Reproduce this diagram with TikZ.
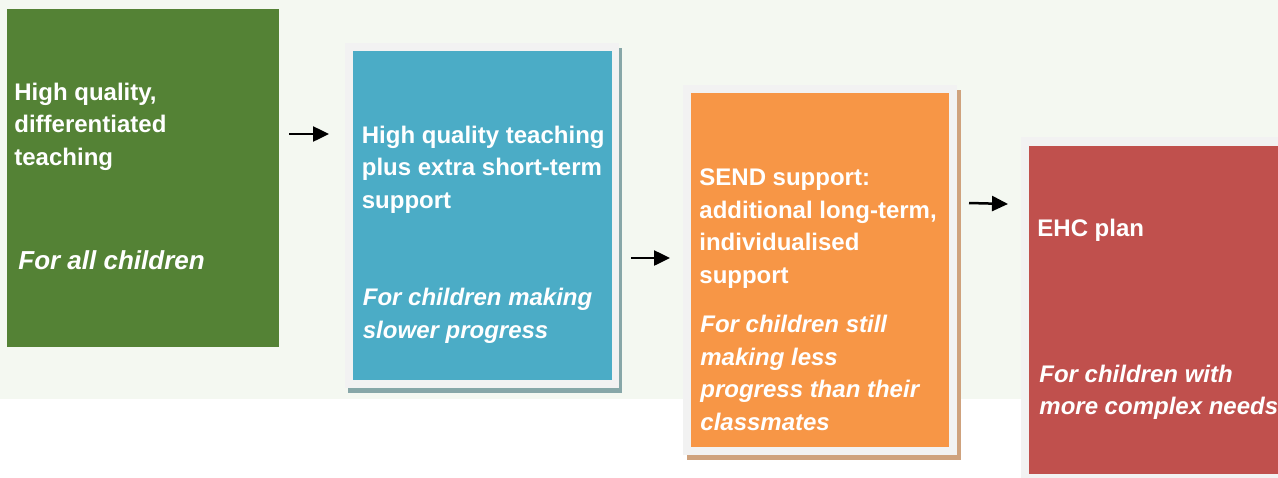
\documentclass[tikz,border=0pt]{standalone}
\usepackage{fontspec}
\setmainfont{Liberation Sans}
\usetikzlibrary{positioning,shadows,arrows.meta}

\definecolor{bgband}{HTML}{F4F8F1}
\definecolor{greenbox}{HTML}{548235}
\definecolor{bluebox}{HTML}{4BACC6}
\definecolor{orangebox}{HTML}{F79646}
\definecolor{redbox}{HTML}{C0504D}
\definecolor{framegray}{HTML}{F2F2F2}
\definecolor{blueshade}{HTML}{87A7A8}
\definecolor{orangeshade}{HTML}{CFA27D}

\tikzset{
  box/.style={inner sep=0pt, outer sep=0pt},
  frame/.style={box, fill=framegray},
  title/.style={inner sep=0pt, anchor=base west, align=left, text=white, font=\fontsize{12}{16.25}\selectfont\bfseries},
  note/.style={title, font=\fontsize{12}{16.25}\selectfont\bfseries\itshape},
  flow/.style={line width=1.25pt, -{Triangle[length=8pt,width=7.5pt]}},
}

\begin{document}
\begin{tikzpicture}[x=0.5pt, y=-0.5pt]
	\useasboundingbox (0,0) rectangle (1278,477);
	\clip (0,0) rectangle (1278,477);
	\fill[bgband] (0,0) rectangle (1278,399);
	
	% step 1 (multi-line nodes sit on their last baseline)
	\node[box, fill=greenbox, minimum width=136pt, minimum height=169pt] (green) at (143,178) {};
	\node[title] (greentitle) at ([shift={(7,156)}]green.north west) {High quality,\\differentiated\\teaching};
	\node[note, font=\fontsize{13}{16.25}\selectfont\bfseries\itshape] (greennote) at ([shift={(11,260)}]green.north west) {For all children};
	
	% step 2
	\node[frame, minimum width=137pt, minimum height=172.5pt, drop shadow={fill=blueshade, opacity=1, shadow xshift=1.5pt, shadow yshift=-2.5pt}] (blueframe) at (482,215.5) {};
	\node[box, fill=bluebox, minimum width=129.5pt, minimum height=164.5pt] (blue) at (blueframe) {};
	\node[title] (bluetitle) at ([shift={(9,157)}]blue.north west) {High quality teaching\\plus extra short-term\\support};
	\node[note] (bluenote) at ([shift={(10,287)}]blue.north west) {For children making\\slower progress};
	
	% step 3
	\node[frame, minimum width=137pt, minimum height=185pt, drop shadow={fill=orangeshade, opacity=1, shadow xshift=2pt, shadow yshift=-2.5pt}] (orangeframe) at (820,270) {};
	\node[box, fill=orangebox, minimum width=129pt, minimum height=177pt] (orange) at (orangeframe) {};
	\node[title] (orangetitle) at ([shift={(8,190)}]orange.north west) {SEND support:\\additional long-term,\\individualised\\support};
	\node[note] (orangenote) at ([shift={(9,337)}]orange.north west) {For children still\\making less\\progress than their\\classmates};
	
	% step 4
	\node[frame, minimum width=137pt, minimum height=172.5pt] (redframe) at (1158,309.5) {};
	\node[box, fill=redbox, minimum width=129pt, minimum height=164pt] (red) at (redframe) {};
	\node[title] (redtitle) at ([shift={(8,91)}]red.north west) {EHC plan};
	\node[note] (rednote) at ([shift={(10,269)}]red.north west) {For children with\\more complex needs};
	
	% arrows
	\draw[flow] ([shift={(10,-44)}]green.east) -- ([shift={(-16,-81.5)}]blueframe.west);
	\draw[flow] ([shift={(12,42.5)}]blueframe.east) -- ([shift={(-13,-12)}]orangeframe.west);
	\draw[flow] ([shift={(12,-67)}]orangeframe.east) -- ([shift={(-13,-105.5)}]redframe.west);
\end{tikzpicture}
\end{document}
